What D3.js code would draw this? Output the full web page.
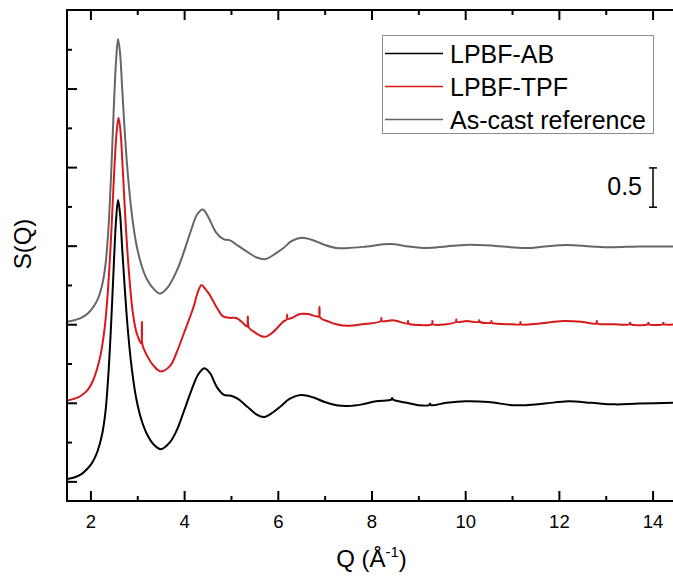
<!DOCTYPE html>
<html><head><meta charset="utf-8">
<script src="https://cdn.jsdelivr.net/npm/d3@7"></script>
<style>body{margin:0;background:#fff}svg{display:block}text{font-family:"Liberation Sans",Arial,sans-serif;fill:#000}</style>
</head><body><svg id="c" width="673" height="576"></svg>
<script>
// ---- data ----
const seriesNames = ["LPBF-AB", "LPBF-TPF", "As-cast reference"];
const seriesColors = ["#000000", "#d7191c", "#666666"];
const seriesOffsets = [0, 1, 2];
const xTickValues = [2, 4, 6, 8, 10, 12, 14];
const xMinorTickValues = [3, 5, 7, 9, 11, 13];
const yMajorTickValues = [0, 1, 2, 3, 4, 5];
const yMinorTickValues = [0.5, 1.5, 2.5, 3.5, 4.5, 5.5];
const scaleBarLabel = "0.5";
const scaleBarSize = 0.5;

const lpbfAB = [[1.5,0.03],[1.65,0.05],[1.8,0.09],[1.95,0.17],[2.05,0.25],[2.15,0.38],[2.25,0.6],[2.32,0.88],[2.38,1.33],[2.44,1.98],[2.5,2.77],[2.55,3.35],[2.59,3.58],[2.63,3.42],[2.68,2.95],[2.74,2.4],[2.8,1.92],[2.88,1.45],[2.97,1.08],[3.08,0.8],[3.2,0.61],[3.35,0.47],[3.5,0.41],[3.7,0.5],[3.85,0.66],[4.0,0.9],[4.15,1.15],[4.3,1.36],[4.43,1.44],[4.55,1.38],[4.7,1.2],[4.85,1.1],[5.0,1.09],[5.15,1.05],[5.35,0.95],[5.55,0.85],[5.71,0.82],[5.9,0.88],[6.05,0.95],[6.25,1.05],[6.5,1.1],[6.75,1.07],[7.0,1.01],[7.25,0.97],[7.5,0.96],[7.8,0.98],[8.1,1.02],[8.42,1.04],[8.44,1.06],[8.46,1.04],[8.75,1.0],[9.0,0.97],[9.23,0.97],[9.25,0.99],[9.27,0.97],[9.6,1.0],[10.0,1.02],[10.5,1.01],[11.0,0.97],[11.3,0.97],[11.7,0.99],[12.2,1.02],[12.7,1.0],[13.2,0.98],[13.7,0.99],[14.5,1.0]];

const lpbfTPF = [[1.5,0.03],[1.65,0.05],[1.8,0.09],[1.95,0.17],[2.06,0.29],[2.15,0.45],[2.22,0.62],[2.3,0.93],[2.37,1.4],[2.44,2.1],[2.5,2.85],[2.56,3.45],[2.6,3.63],[2.64,3.47],[2.69,2.98],[2.75,2.3],[2.82,1.68],[2.9,1.17],[2.98,0.9],[3.05,0.79],[3.09,0.75],[3.1,1.03],[3.11,0.74],[3.2,0.61],[3.35,0.47],[3.5,0.4],[3.7,0.47],[3.84,0.64],[3.98,0.86],[4.19,1.2],[4.3,1.42],[4.37,1.5],[4.45,1.45],[4.54,1.38],[4.69,1.22],[4.83,1.1],[5.0,1.08],[5.11,1.08],[5.25,1.02],[5.34,0.97],[5.36,1.1],[5.38,0.96],[5.5,0.9],[5.72,0.84],[5.9,0.9],[6.11,1.03],[6.19,1.06],[6.2,1.12],[6.21,1.07],[6.3,1.08],[6.47,1.13],[6.65,1.13],[6.82,1.1],[6.88,1.1],[6.89,1.22],[6.9,1.09],[7.1,1.03],[7.25,1.0],[7.5,0.98],[7.8,1.0],[8.2,1.04],[8.21,1.08],[8.22,1.04],[8.46,1.05],[8.77,1.01],[8.78,1.04],[8.79,1.01],[9.0,0.99],[9.29,1.0],[9.3,1.04],[9.31,1.0],[9.8,1.03],[9.81,1.06],[9.82,1.03],[10.03,1.04],[10.29,1.03],[10.3,1.05],[10.31,1.03],[10.55,1.02],[10.56,1.04],[10.57,1.02],[11.0,1.0],[11.17,1.0],[11.18,1.03],[11.19,1.0],[11.6,1.01],[12.09,1.04],[12.5,1.03],[12.8,1.01],[12.81,1.04],[12.82,1.01],[13.16,1.0],[13.51,1.0],[13.52,1.02],[13.53,1.0],[13.9,1.0],[13.91,1.02],[13.92,1.0],[14.22,1.0],[14.23,1.02],[14.24,1.0],[14.5,1.0]];

const asCast = [[1.5,0.03],[1.65,0.05],[1.8,0.08],[1.95,0.14],[2.05,0.21],[2.15,0.31],[2.25,0.5],[2.32,0.75],[2.38,1.18],[2.44,1.88],[2.5,2.77],[2.55,3.38],[2.59,3.63],[2.63,3.47],[2.68,2.98],[2.74,2.38],[2.8,1.9],[2.88,1.42],[2.97,1.05],[3.08,0.77],[3.2,0.58],[3.35,0.45],[3.48,0.39],[3.65,0.47],[3.85,0.69],[4.0,0.93],[4.15,1.2],[4.28,1.4],[4.4,1.46],[4.52,1.36],[4.68,1.17],[4.85,1.08],[4.97,1.07],[5.15,1.0],[5.35,0.92],[5.55,0.85],[5.74,0.83],[5.95,0.9],[6.12,0.97],[6.3,1.06],[6.5,1.1],[6.75,1.07],[7.0,1.01],[7.25,0.97],[7.5,0.97],[7.9,0.99],[8.39,1.02],[8.8,0.99],[9.17,0.97],[9.6,0.99],[10.03,1.01],[10.6,1.0],[11.3,0.97],[11.7,0.99],[12.16,1.01],[12.7,0.99],[13.15,0.98],[13.7,0.99],[14.5,0.99]];

const seriesData = [lpbfAB, lpbfTPF, asCast];

// ---- layout ----
const L = 67, T = 10, B = 501, R = 676;
const svg = d3.select("#c");
const x = d3.scaleLinear().domain([1.5, 14.5]).range([L, R]);
const y = d3.scaleLinear().domain([-0.25, 6.0]).range([B, T]);

svg.append("defs").append("clipPath").attr("id","clip")
  .append("rect").attr("x", L).attr("y", T).attr("width", R - L).attr("height", B - T);

// curves
const line = d3.line().x(d => x(d[0])).y(d => y(d[1])).curve(d3.curveCatmullRom.alpha(0.5));
const g = svg.append("g").attr("clip-path","url(#clip)");
[2, 1, 0].forEach(i => {
  g.append("path")
    .datum(seriesData[i].map(d => [d[0], d[1] + seriesOffsets[i]]))
    .attr("d", line).attr("fill","none")
    .attr("stroke", seriesColors[i]).attr("stroke-width", 2)
    .attr("stroke-linejoin","round");
});

// axes
function styleAxis(sel){ sel.select(".domain").remove(); sel.selectAll(".tick line").attr("stroke","#000").attr("stroke-width",2); }
svg.append("g").attr("transform",`translate(0,${B})`)
  .call(d3.axisBottom(x).tickValues(xTickValues).tickSizeInner(-10).tickSizeOuter(0).tickPadding(14).tickFormat(d3.format("d")))
  .call(styleAxis)
  .call(s => s.selectAll("text").attr("font-size", 18.5).attr("font-family","Liberation Sans, Arial, sans-serif").attr("fill","#000"));
svg.append("g").attr("transform",`translate(0,${B})`)
  .call(d3.axisBottom(x).tickValues(xMinorTickValues).tickSizeInner(-5).tickSizeOuter(0).tickFormat(""))
  .call(styleAxis);
svg.append("g").attr("transform",`translate(0,${T})`)
  .call(d3.axisTop(x).tickValues(xTickValues).tickSizeInner(-10).tickSizeOuter(0).tickFormat(""))
  .call(styleAxis);
svg.append("g").attr("transform",`translate(0,${T})`)
  .call(d3.axisTop(x).tickValues(xMinorTickValues).tickSizeInner(-5).tickSizeOuter(0).tickFormat(""))
  .call(styleAxis);
svg.append("g").attr("transform",`translate(${L},0)`)
  .call(d3.axisLeft(y).tickValues(yMajorTickValues).tickSizeInner(-10).tickSizeOuter(0).tickFormat(""))
  .call(styleAxis);
svg.append("g").attr("transform",`translate(${L},0)`)
  .call(d3.axisLeft(y).tickValues(yMinorTickValues).tickSizeInner(-5).tickSizeOuter(0).tickFormat(""))
  .call(styleAxis);

// spines
svg.append("path").attr("d",`M${R},${T}H${L}V${B}H${R}`).attr("fill","none").attr("stroke","#000").attr("stroke-width",2);

// axis titles
const xt = svg.append("text").attr("x", (L + R) / 2).attr("y", 567).attr("text-anchor","middle").attr("font-size", 24);
xt.append("tspan").text("Q (Å");
xt.append("tspan").attr("font-size", 15).attr("dy", -10).text("-1");
xt.append("tspan").attr("dy", 10).text(")");
svg.append("text").attr("transform","translate(31,244) rotate(-90)").attr("text-anchor","middle").attr("font-size", 24).text("S(Q)");

// legend
svg.append("rect").attr("x", 382.5).attr("y", 35.5).attr("width", 271).attr("height", 98)
  .attr("fill","#fff").attr("stroke","#8c8c8c").attr("stroke-width",1);
seriesNames.forEach((n, i) => {
  const cy = 53.5 + i * 33;
  svg.append("line").attr("x1", 385).attr("x2", 443).attr("y1", cy).attr("y2", cy)
    .attr("stroke", seriesColors[i]).attr("stroke-width", 1.5);
  svg.append("text").attr("x", 450).attr("y", cy + 9).attr("font-size", 25).text(n);
});

// scale bar
const sbX = 653, sbBottom = 3.49;
const sb = svg.append("g").attr("stroke","#000").attr("stroke-width",1.5);
sb.append("line").attr("x1", sbX).attr("x2", sbX).attr("y1", y(sbBottom)).attr("y2", y(sbBottom + scaleBarSize));
sb.append("line").attr("x1", sbX - 4).attr("x2", sbX + 4).attr("y1", y(sbBottom)).attr("y2", y(sbBottom));
sb.append("line").attr("x1", sbX - 4).attr("x2", sbX + 4).attr("y1", y(sbBottom + scaleBarSize)).attr("y2", y(sbBottom + scaleBarSize));
svg.append("text").attr("x", 642).attr("y", 195).attr("text-anchor","end").attr("font-size", 25).text(scaleBarLabel);
</script></body></html>
